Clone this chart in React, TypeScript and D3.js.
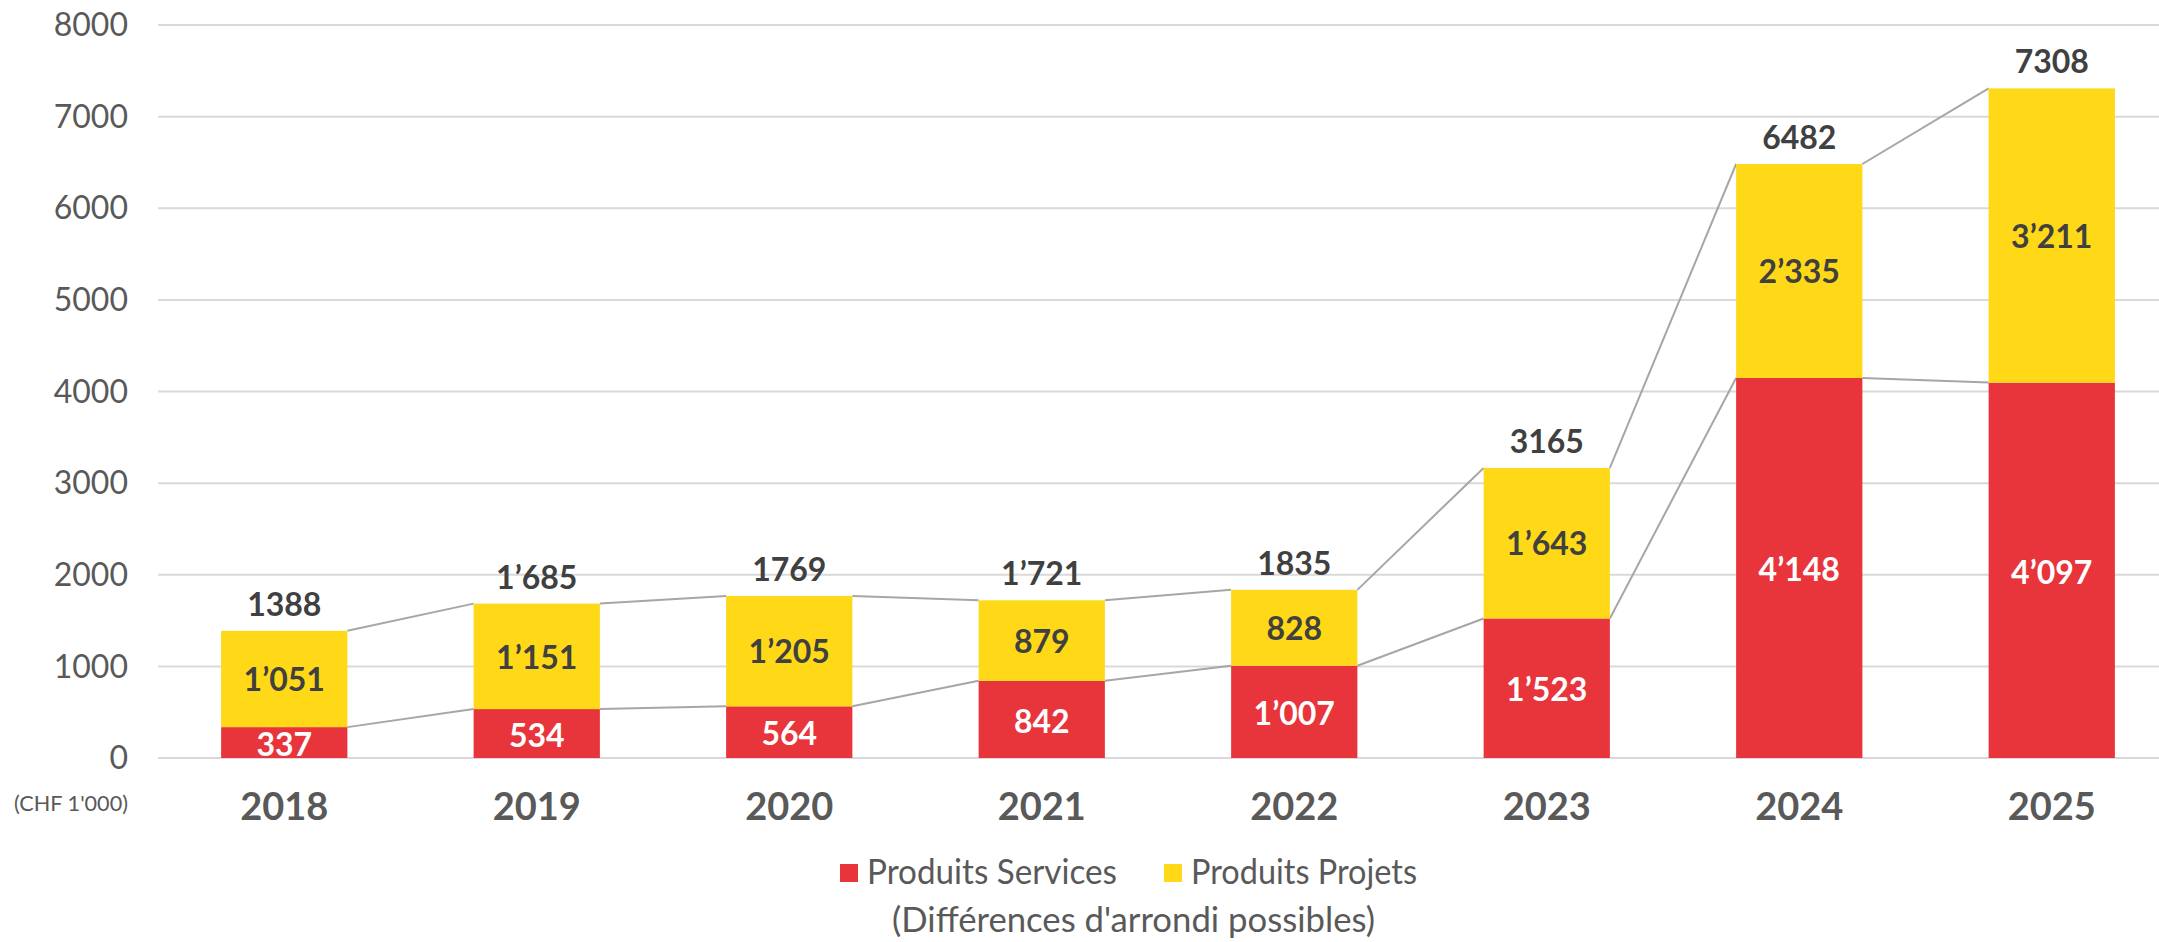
import React from 'react';
import * as d3 from 'd3';

const years = ['2018', '2019', '2020', '2021', '2022', '2023', '2024', '2025'];
const services = [337, 534, 564, 842, 1007, 1523, 4148, 4097];
const projets = [1051, 1151, 1205, 879, 828, 1643, 2335, 3211];
const serviceLabels = ['337', '534', '564', '842', '1’007', '1’523', '4’148', '4’097'];
const projetLabels = ['1’051', '1’151', '1’205', '879', '828', '1’643', '2’335', '3’211'];
const totalLabels = ['1388', '1’685', '1769', '1’721', '1835', '3165', '6482', '7308'];
const yTicks = [0, 1000, 2000, 3000, 4000, 5000, 6000, 7000, 8000];

const W = 2159;
const H = 942;
const RED = '#E8343B';
const YELLOW = '#FFD817';
const FONT = 'Lato, "Open Sans", sans-serif';

const App = () => {
  const x = d3.scaleBand<string>().domain(years).range([158, 2178]).paddingInner(0.5).paddingOuter(0.25);
  const y = d3.scaleLinear().domain([0, 8000]).range([758, 25]);
  const bw = x.bandwidth();

  const rows = years.map((yr, i) => ({
    yr,
    x0: x(yr) as number,
    s: services[i],
    t: services[i] + projets[i],
  }));

  // connector lines between bar tops
  const links: { x1: number; y1: number; x2: number; y2: number }[] = [];
  for (let i = 0; i < rows.length - 1; i++) {
    const a = rows[i];
    const b = rows[i + 1];
    links.push({ x1: a.x0 + bw, y1: y(a.s), x2: b.x0, y2: y(b.s) });
    links.push({ x1: a.x0 + bw, y1: y(a.t), x2: b.x0, y2: y(b.t) });
  }

  return (
    <div style={{ position: 'absolute', left: 0, top: 0 }}>
      <svg width={W} height={H} style={{ display: 'block', fontFamily: FONT }}>
        <rect width={W} height={H} fill="#fff" />
        {yTicks.map((t) => (
          <g key={t}>
            <line x1={158} x2={W} y1={y(t)} y2={y(t)} stroke="#D9D9D9" strokeWidth={2} />
            <text x={128} y={y(t)} dy="0.35em" textAnchor="end" fontSize={32} fill="#595959">
              {t}
            </text>
          </g>
        ))}
        {links.map((l, i) => (
          <line key={i} x1={l.x1} y1={l.y1} x2={l.x2} y2={l.y2} stroke="#A6A6A6" strokeWidth={2} />
        ))}
        {rows.map((r, i) => (
          <g key={r.yr}>
            <rect x={r.x0} y={y(r.s)} width={bw} height={y(0) - y(r.s)} fill={RED} />
            <rect x={r.x0} y={y(r.t)} width={bw} height={y(r.s) - y(r.t)} fill={YELLOW} />
            <text
              x={r.x0 + bw / 2}
              y={(y(0) + y(r.s)) / 2 + 2}
              dy="0.35em"
              textAnchor="middle"
              fontSize={32}
              fontWeight={700}
              fill="#fff"
            >
              {serviceLabels[i]}
            </text>
            <text
              x={r.x0 + bw / 2}
              y={(y(r.s) + y(r.t)) / 2 + 1}
              dy="0.35em"
              textAnchor="middle"
              fontSize={32}
              fontWeight={700}
              fill="#404040"
            >
              {projetLabels[i]}
            </text>
            <text x={r.x0 + bw / 2} y={y(r.t) - 15} textAnchor="middle" fontSize={32} fontWeight={700} fill="#404040">
              {totalLabels[i]}
            </text>
            <text x={r.x0 + bw / 2} y={807} dy="0.35em" textAnchor="middle" fontSize={38} fontWeight={700} fill="#595959">
              {r.yr}
            </text>
          </g>
        ))}
        <text x={14} y={803} dy="0.35em" fontSize={22} fill="#595959" textLength={114} lengthAdjust="spacingAndGlyphs">
          (CHF 1'000)
        </text>
        <g>
          <rect x={840} y={864} width={18} height={18} fill={RED} />
          <text x={867} y={872} dy="0.35em" fontSize={35} fill="#595959" textLength={250} lengthAdjust="spacingAndGlyphs">
            Produits Services
          </text>
          <rect x={1164} y={864} width={18} height={18} fill={YELLOW} />
          <text x={1191} y={872} dy="0.35em" fontSize={35} fill="#595959" textLength={226} lengthAdjust="spacingAndGlyphs">
            Produits Projets
          </text>
        </g>
        <text
          x={892}
          y={920}
          dy="0.35em"
          fontSize={35}
          fill="#595959"
          textLength={483}
          lengthAdjust="spacingAndGlyphs"
        >
          (Différences d'arrondi possibles)
        </text>
      </svg>
    </div>
  );
};

export default App;
